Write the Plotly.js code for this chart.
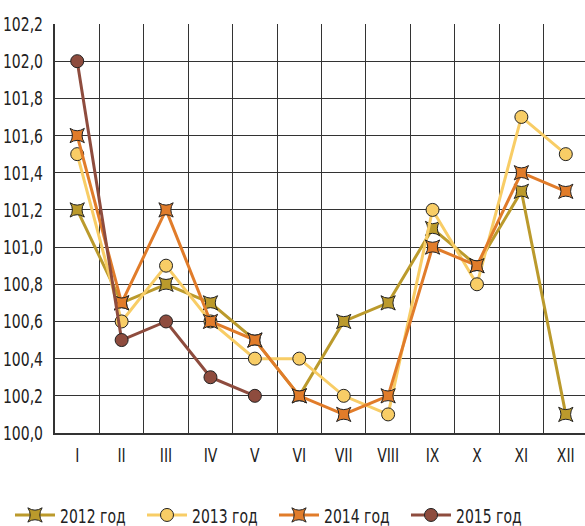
<!DOCTYPE html>
<html><head><meta charset="utf-8">
<script src="https://cdn.plot.ly/plotly-3.0.1.min.js"></script>
<style>html,body{margin:0;padding:0;overflow:hidden;background:#fff}#c{width:588px;height:526px}
g.ytick{transform-box:fill-box;transform-origin:right center;transform:scaleX(0.7);}
g.xtick{transform-box:fill-box;transform-origin:center center;transform:scaleX(0.7);}
text.legendtext{transform-box:fill-box;transform-origin:left center;transform:scaleX(0.7);}
</style>
</head><body><div id="c"></div>
<script>
const months = ["I","II","III","IV","V","VI","VII","VIII","IX","X","XI","XII"];
const y2012 = [101.2,100.7,100.8,100.7,100.5,100.2,100.6,100.7,101.1,100.9,101.3,100.1];
const y2013 = [101.5,100.6,100.9,100.6,100.4,100.4,100.2,100.1,101.2,100.8,101.7,101.5];
const y2014 = [101.6,100.7,101.2,100.6,100.5,100.2,100.1,100.2,101.0,100.9,101.4,101.3];
const y2015 = [102.0,100.5,100.6,100.3,100.2];
const names = ["2012 год","2013 год","2014 год","2015 год"];

const FONT = "DejaVu Sans, sans-serif";
function tr(y, name, color, fill, sym, size){
  return {type:'scatter', mode:'lines+markers', x: months.slice(0,y.length), y:y, name:name,
    line:{color:color, width:3},
    marker:{symbol:sym, size:size, color:fill, line:{color:'#222', width:1}}};
}
const data = [
  tr(y2012, names[0], '#bb9a2c', '#bb9a2c', 'star-square', 13),
  tr(y2013, names[1], '#f8cd66', '#f8cd66', 'circle', 13),
  tr(y2014, names[2], '#e17c2a', '#e17c2a', 'star-square', 13),
  tr(y2015, names[3], '#8e4c3e', '#8e4c3e', 'circle', 13)
];
const layout = {
  width:588, height:526, separators:', ',
  margin:{l:55, r:0, t:24, b:93},
  paper_bgcolor:'#fff', plot_bgcolor:'#fff',
  font:{family:FONT, size:20, color:'#222'},
  showlegend:true,
  legend:{orientation:'h', xref:'container', yref:'container', x:0.017, xanchor:'left', y:0.021, yanchor:'middle',
    font:{family:FONT, size:20, color:'#222'}, entrywidth:77, entrywidthmode:'pixels', itemwidth:40, tracegroupgap:0},
  xaxis:{type:'category', range:[-0.5,11.5], tickson:'boundaries', showgrid:true, gridcolor:'#333', gridwidth:1,
    ticks:'', showline:true, linecolor:'#333', linewidth:2, tickfont:{family:FONT,size:20,color:'#222'}, ticklabelstandoff:3, fixedrange:true, automargin:false},
  yaxis:{range:[100,102.2], dtick:0.2, tick0:100, tickformat:'.1f', showgrid:true, gridcolor:'#333', gridwidth:1,
    showline:true, linecolor:'#333', linewidth:2, ticks:'', zeroline:false, tickfont:{family:FONT,size:20,color:'#222'}, ticklabelstandoff:6, fixedrange:true, automargin:false}
};
Plotly.newPlot('c', data, layout, {displayModeBar:false, staticPlot:true});
</script></body></html>
